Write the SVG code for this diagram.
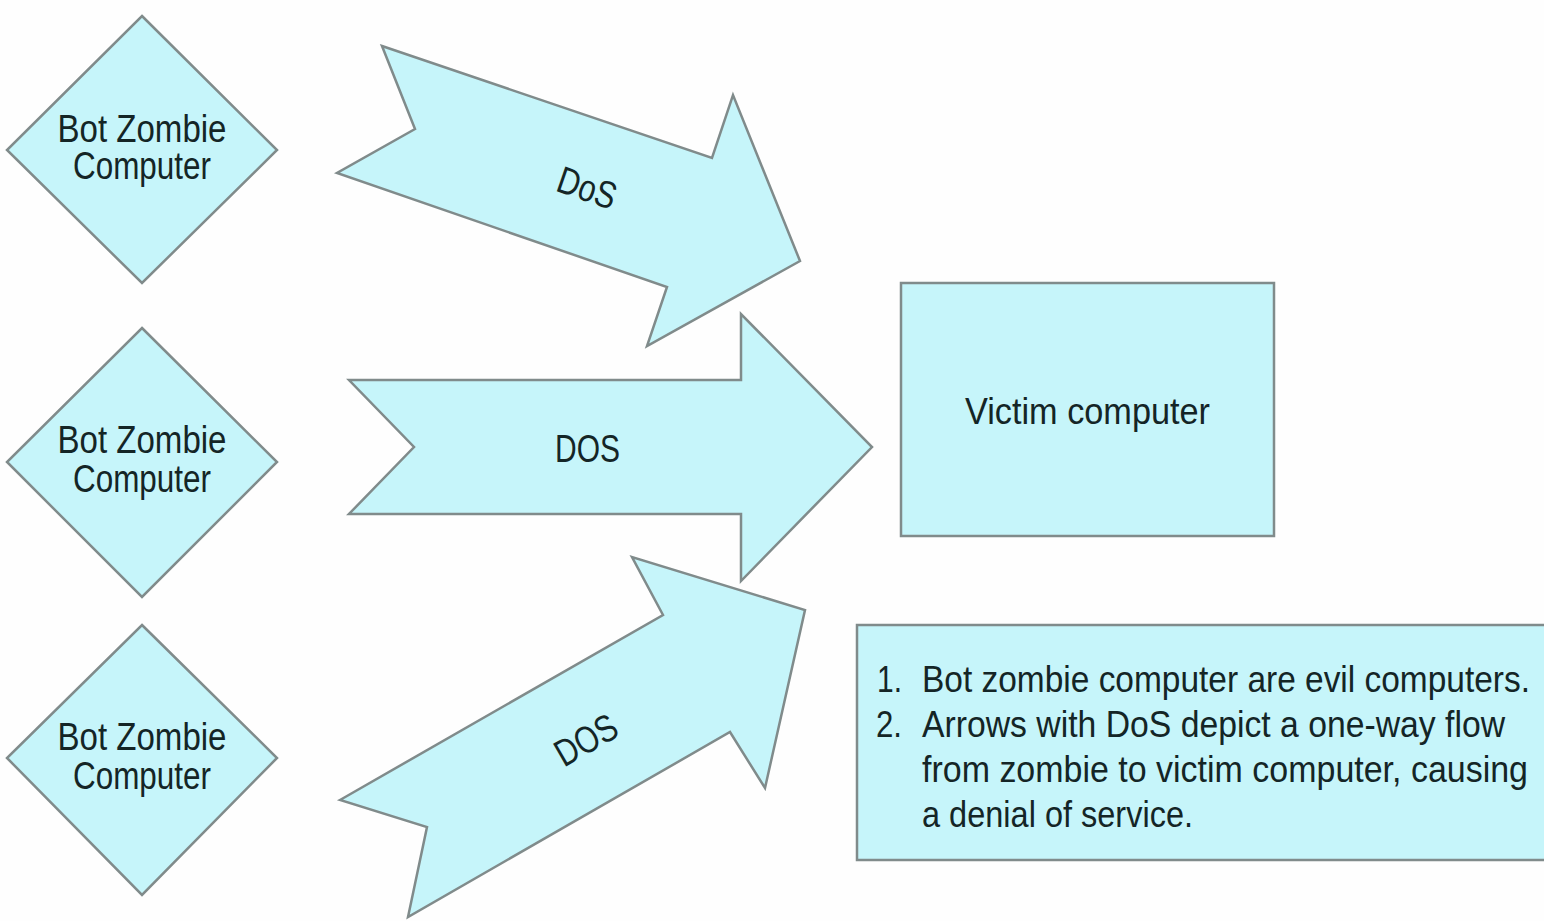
<svg xmlns="http://www.w3.org/2000/svg" width="1544" height="921" viewBox="0 0 1544 921">
<style>
.shape{fill:#c6f5fa;stroke:#808b8b;stroke-width:2.5;stroke-linejoin:miter}
.t{font-family:"Liberation Sans Narrow","Liberation Sans",Arial,sans-serif;fill:#142526;font-size:38px}
.c{text-anchor:middle}
.n{font-size:36px}
</style>
<rect width="1544" height="921" fill="#fefefe"/>
<g id="connectors">
  <g id="arrow-top">
    <polygon class="shape" points="382,46 712,158 733,95 800,261 647,346 667,287 337,173 415,129"/>
    <text class="t c" transform="translate(587,188) rotate(19)" y="13" textLength="60" lengthAdjust="spacingAndGlyphs">DoS</text>
  </g>
  <g id="arrow-middle">
    <polygon class="shape" points="349,380 741,380 741,314 872,447 741,581 741,514 349,514 414,447"/>
    <text class="t c" x="587.5" y="462" textLength="65" lengthAdjust="spacingAndGlyphs">DOS</text>
  </g>
  <g id="arrow-bottom">
    <polygon class="shape" points="340,800 663,615 632,557 805,610 765,788 730,732 408,917 427,827"/>
    <text class="t c" transform="translate(586,740) rotate(-30)" y="13" textLength="66" lengthAdjust="spacingAndGlyphs">DOS</text>
  </g>
</g>
<g id="zombie1">
  <polygon class="shape" points="142,16 277,150 142,283 7,150"/>
  <text class="t c" x="142" y="142" textLength="169" lengthAdjust="spacingAndGlyphs">Bot Zombie</text>
  <text class="t c" x="142" y="179" textLength="138" lengthAdjust="spacingAndGlyphs">Computer</text>
</g>
<g id="zombie2">
  <polygon class="shape" points="142,328 277,462 142,597 7,462"/>
  <text class="t c" x="142" y="453" textLength="169" lengthAdjust="spacingAndGlyphs">Bot Zombie</text>
  <text class="t c" x="142" y="492" textLength="138" lengthAdjust="spacingAndGlyphs">Computer</text>
</g>
<g id="zombie3">
  <polygon class="shape" points="142,625 277,758 142,895 7,758"/>
  <text class="t c" x="142" y="750" textLength="169" lengthAdjust="spacingAndGlyphs">Bot Zombie</text>
  <text class="t c" x="142" y="789" textLength="138" lengthAdjust="spacingAndGlyphs">Computer</text>
</g>
<g id="victim">
  <rect class="shape" x="901" y="283" width="373" height="253"/>
  <text class="t c n" x="1087.5" y="424" textLength="245" lengthAdjust="spacingAndGlyphs">Victim computer</text>
</g>
<g id="notes">
  <rect class="shape" x="857" y="625" width="700" height="235"/>
  <text class="t n" x="877" y="692" textLength="25" lengthAdjust="spacingAndGlyphs">1.</text>
  <text class="t n" x="922" y="692" textLength="608" lengthAdjust="spacingAndGlyphs">Bot zombie computer are evil computers.</text>
  <text class="t n" x="876" y="737" textLength="26" lengthAdjust="spacingAndGlyphs">2.</text>
  <text class="t n" x="922" y="737" textLength="583" lengthAdjust="spacingAndGlyphs">Arrows with DoS depict a one-way flow</text>
  <text class="t n" x="922" y="782" textLength="606" lengthAdjust="spacingAndGlyphs">from zombie to victim computer, causing</text>
  <text class="t n" x="922" y="827" textLength="271" lengthAdjust="spacingAndGlyphs">a denial of service.</text>
</g>
</svg>
